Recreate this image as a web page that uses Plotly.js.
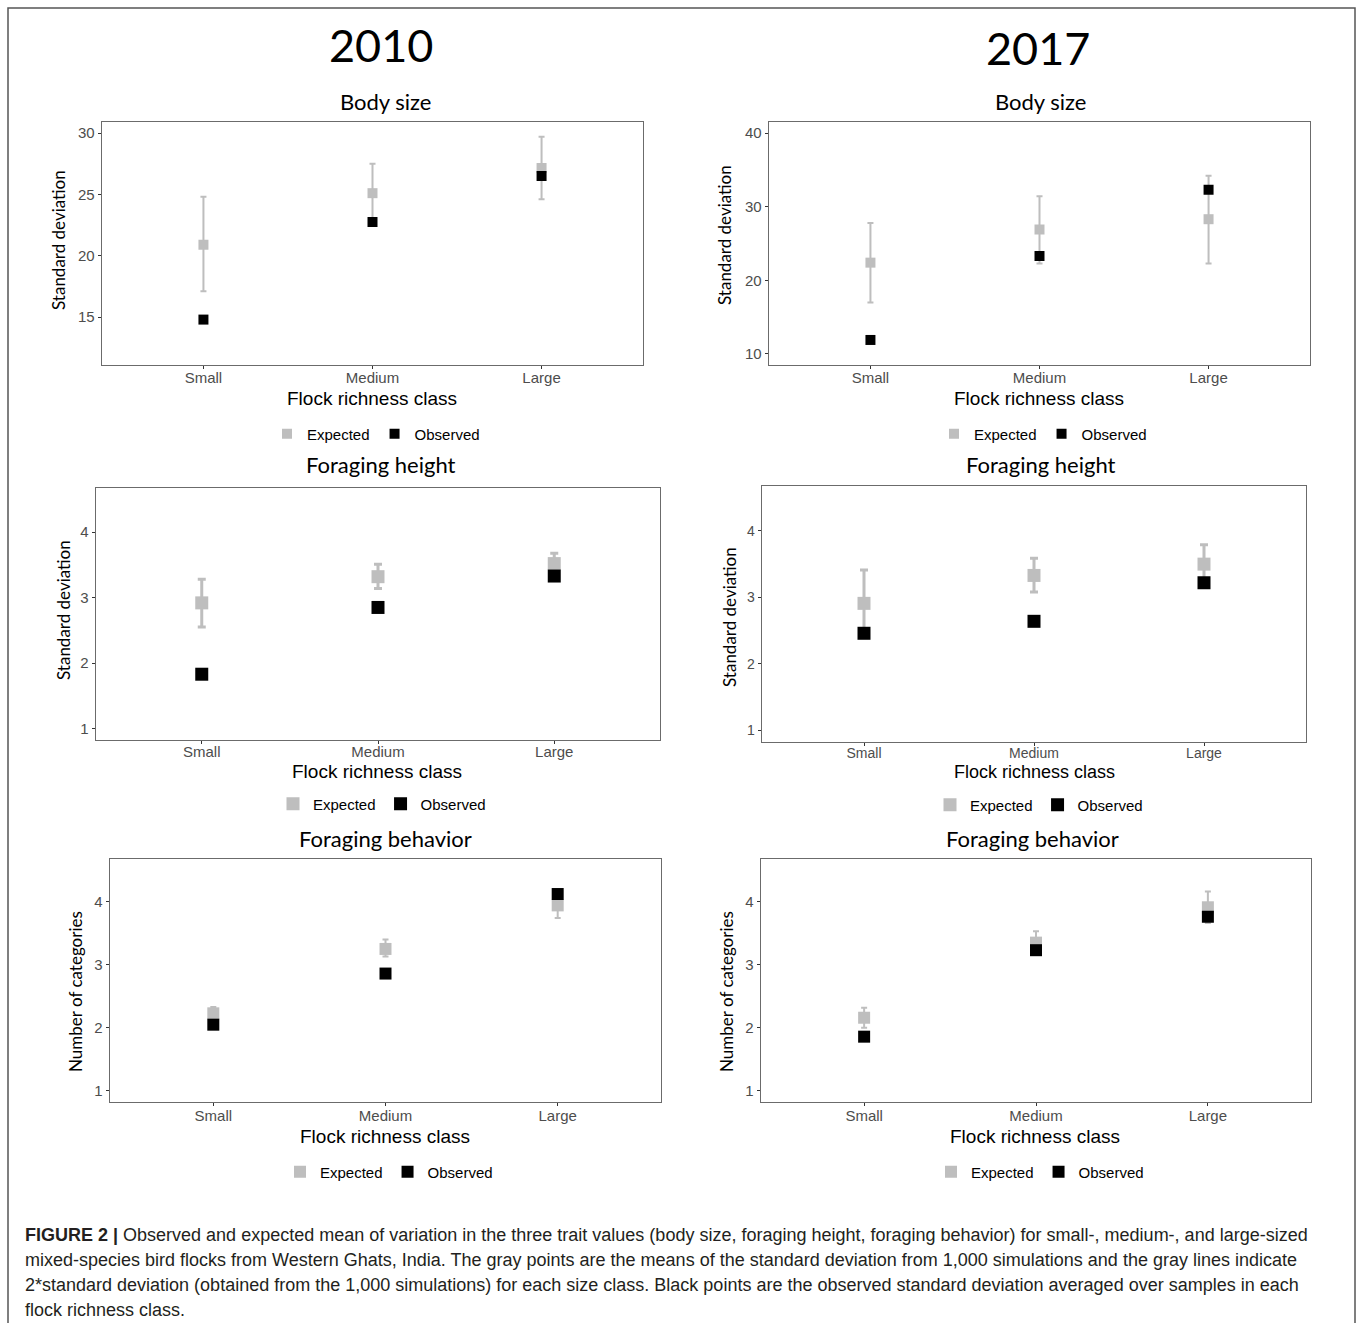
<!DOCTYPE html>
<html>
<head>
<meta charset="utf-8">
<script src="https://cdn.plot.ly/plotly-3.0.1.min.js"></script>
<style>
  html, body { margin: 0; padding: 0; background: #ffffff; }
  #chart { width: 1358px; height: 1323px; }
</style>
</head>
<body>
<div id="chart"></div>
<script>
// ---------------- DATA ----------------
const categories = ["Small", "Medium", "Large"];
const seriesNames = ["Expected", "Observed"];
const years = ["2010", "2017"];
const traitTitles = ["Body size", "Foraging height", "Foraging behavior"];
const yAxisTitles = ["Standard deviation", "Standard deviation", "Number of categories"];
const xAxisTitle = "Flock richness class";

// 2010 Body size
const body2010Expected = [20.9, 25.1, 27.15];
const body2010Lower    = [17.1, 22.7, 24.6];
const body2010Upper    = [24.8, 27.5, 29.7];
const body2010Observed = [14.8, 22.75, 26.5];
// 2017 Body size
const body2017Expected = [22.4, 26.9, 28.3];
const body2017Lower    = [17.0, 22.3, 22.3];
const body2017Upper    = [27.8, 31.4, 34.2];
const body2017Observed = [11.9, 23.3, 32.3];
// 2010 Foraging height
const height2010Expected = [2.92, 3.32, 3.52];
const height2010Lower    = [2.55, 3.14, 3.36];
const height2010Upper    = [3.28, 3.51, 3.68];
const height2010Observed = [1.83, 2.85, 3.33];
// 2017 Foraging height
const height2017Expected = [2.91, 3.33, 3.50];
const height2017Lower    = [2.41, 3.08, 3.21];
const height2017Upper    = [3.41, 3.59, 3.79];
const height2017Observed = [2.46, 2.64, 3.22];
// 2010 Foraging behavior
const behav2010Expected = [2.23, 3.25, 3.94];
const behav2010Lower    = [2.13, 3.13, 3.74];
const behav2010Upper    = [2.33, 3.40, 4.14];
const behav2010Observed = [2.05, 2.86, 4.12];
// 2017 Foraging behavior
const behav2017Expected = [2.16, 3.35, 3.91];
const behav2017Lower    = [2.00, 3.17, 3.66];
const behav2017Upper    = [2.32, 3.53, 4.16];
const behav2017Observed = [1.86, 3.23, 3.76];

const body2010Ticks = [15, 20, 25, 30];
const body2017Ticks = [10, 20, 30, 40];
const smallTicks = [1, 2, 3, 4];

const captionLines = [
  "<b>FIGURE 2 |</b> Observed and expected mean of variation in the three trait values (body size, foraging height, foraging behavior) for small-, medium-, and large-sized",
  "mixed-species bird flocks from Western Ghats, India. The gray points are the means of the standard deviation from 1,000 simulations and the gray lines indicate",
  "2*standard deviation (obtained from the 1,000 simulations) for each size class. Black points are the observed standard deviation averaged over samples in each",
  "flock richness class."
];

// ---------------- LAYOUT HELPERS ----------------
const W = 1358, H = 1323;
const fx = x => x / W;
const fy = y => 1 - y / H;

const panels = [
  { exp: body2010Expected, lo: body2010Lower, hi: body2010Upper, obs: body2010Observed, ticks: body2010Ticks, yr: [11.1, 30.9],
    box: [102, 643, 122, 365], title: traitTitles[0], tpos: [385, 101], ytitle: yAxisTitles[0], ypos: [58, 240], xpos: [372, 398],
    leg: [376, 434], ms: 10, ebw: 2, ecap: 3, tf: 15, xtf: 19, tso: -4 },
  { exp: body2017Expected, lo: body2017Lower, hi: body2017Upper, obs: body2017Observed, ticks: body2017Ticks, yr: [8.5, 41.5],
    box: [769, 1310, 122, 365], title: traitTitles[0], tpos: [1040, 101], ytitle: yAxisTitles[0], ypos: [725, 235], xpos: [1039, 398],
    leg: [1043, 434], ms: 10, ebw: 2, ecap: 3, tf: 15, xtf: 19, tso: -4 },
  { exp: height2010Expected, lo: height2010Lower, hi: height2010Upper, obs: height2010Observed, ticks: smallTicks, yr: [0.825, 4.675],
    box: [96, 660, 488, 740], title: traitTitles[1], tpos: [381, 464], ytitle: yAxisTitles[1], ypos: [63, 610], xpos: [377, 771],
    leg: [382, 804], ms: 13, ebw: 3, ecap: 4, tf: 15, xtf: 19, tso: -5 },
  { exp: height2017Expected, lo: height2017Lower, hi: height2017Upper, obs: height2017Observed, ticks: smallTicks, yr: [0.825, 4.675],
    box: [762, 1306, 486, 742], title: traitTitles[1], tpos: [1041, 464], ytitle: yAxisTitles[1], ypos: [730, 617], xpos: [1034, 772],
    leg: [1039, 805], ms: 13, ebw: 3, ecap: 4, tf: 14, xtf: 18, tso: -5 },
  { exp: behav2010Expected, lo: behav2010Lower, hi: behav2010Upper, obs: behav2010Observed, ticks: smallTicks, yr: [0.825, 4.675],
    box: [110, 661, 859, 1102], title: traitTitles[2], tpos: [385, 838], ytitle: yAxisTitles[2], ypos: [75, 992], xpos: [385, 1136],
    leg: [389, 1172], ms: 12, ebw: 2, ecap: 3, tf: 15, xtf: 19, tso: -3 },
  { exp: behav2017Expected, lo: behav2017Lower, hi: behav2017Upper, obs: behav2017Observed, ticks: smallTicks, yr: [0.825, 4.675],
    box: [761, 1311, 859, 1102], title: traitTitles[2], tpos: [1032, 838], ytitle: yAxisTitles[2], ypos: [726, 992], xpos: [1035, 1136],
    leg: [1040, 1172], ms: 12, ebw: 2, ecap: 3, tf: 15, xtf: 19, tso: -3 }
];

const traces = [];
const layout = {
  width: W, height: H,
  margin: { l: 0, r: 0, t: 0, b: 0 },
  paper_bgcolor: "#ffffff",
  plot_bgcolor: "#ffffff",
  showlegend: true,
  annotations: [],
  shapes: []
};

const tickFontFamily = "Liberation Sans, Arial, sans-serif";
const titleFontFamily = "Lato, Open Sans, sans-serif";

panels.forEach((p, i) => {
  const n = i === 0 ? "" : String(i + 1);
  const xa = "x" + n, ya = "y" + n;
  const legName = "legend" + n;
  const errPlus = p.hi.map((v, k) => v - p.exp[k]);
  const errMinus = p.exp.map((v, k) => v - p.lo[k]);

  traces.push({
    type: "scatter", mode: "markers", name: seriesNames[0],
    x: categories, y: p.exp, xaxis: xa, yaxis: ya, legend: legName,
    marker: { symbol: "square", color: "#BEBEBE", size: p.ms },
    error_y: { type: "data", symmetric: false, array: errPlus, arrayminus: errMinus,
               color: "#BEBEBE", thickness: p.ebw, width: p.ecap },
    hoverinfo: "skip"
  });
  traces.push({
    type: "scatter", mode: "markers", name: seriesNames[1],
    x: categories, y: p.obs, xaxis: xa, yaxis: ya, legend: legName,
    marker: { symbol: "square", color: "#000000", size: p.ms },
    hoverinfo: "skip"
  });

  const [bx0, bx1, by0, by1] = p.box;
  layout["xaxis" + n] = {
    domain: [fx(bx0), fx(bx1)], anchor: ya,
    type: "category", range: [-0.6, 2.6], fixedrange: true,
    showline: true, mirror: true, linecolor: "#6b6b6b", linewidth: 1.3,
    showgrid: false, zeroline: false,
    ticks: "outside", ticklen: 3, tickcolor: "#333333", tickwidth: 1,
    ticklabelstandoff: p.tso,
    tickfont: { family: tickFontFamily, size: p.tf, color: "#4D4D4D" }
  };
  layout["yaxis" + n] = {
    domain: [fy(by1), fy(by0)], anchor: xa,
    range: p.yr, fixedrange: true,
    tickmode: "array", tickvals: p.ticks, ticktext: p.ticks.map(String),
    showline: true, mirror: true, linecolor: "#6b6b6b", linewidth: 1.3,
    showgrid: false, zeroline: false,
    ticks: "outside", ticklen: 3, tickcolor: "#333333", tickwidth: 1,
    tickfont: { family: tickFontFamily, size: p.tf, color: "#4D4D4D" }
  };
  layout[legName] = {
    orientation: "h", x: fx(p.leg[0]), y: fy(p.leg[1]), xref: "paper", yref: "paper",
    xanchor: "center", yanchor: "middle",
    bgcolor: "rgba(0,0,0,0)", borderwidth: 0,
    font: { family: tickFontFamily, size: 15, color: "#000000" },
    itemwidth: 30, tracegroupgap: 0, itemclick: false, itemdoubleclick: false
  };

  layout.annotations.push({
    text: p.title, xref: "paper", yref: "paper", x: fx(p.tpos[0]), y: fy(p.tpos[1]),
    xanchor: "center", yanchor: "middle", showarrow: false,
    font: { family: titleFontFamily, size: 22, color: "#000000" }
  });
  layout.annotations.push({
    text: p.ytitle, xref: "paper", yref: "paper", x: fx(p.ypos[0]), y: fy(p.ypos[1]),
    xanchor: "center", yanchor: "middle", showarrow: false, textangle: -90,
    font: { family: titleFontFamily, size: 17, color: "#000000" }
  });
  layout.annotations.push({
    text: xAxisTitle, xref: "paper", yref: "paper", x: fx(p.xpos[0]), y: fy(p.xpos[1]),
    xanchor: "center", yanchor: "middle", showarrow: false,
    font: { family: tickFontFamily, size: p.xtf, color: "#000000" }
  });
});

// Year headings
[[years[0], 381, 45], [years[1], 1038, 48]].forEach(([t, x, y]) => {
  layout.annotations.push({
    text: t, xref: "paper", yref: "paper", x: fx(x), y: fy(y),
    xanchor: "center", yanchor: "middle", showarrow: false,
    font: { family: titleFontFamily, size: 45, color: "#000000" }
  });
});

// Caption
captionLines.forEach((line, k) => {
  layout.annotations.push({
    text: line, xref: "paper", yref: "paper", x: fx(23), y: fy(1235 + 25 * k),
    xanchor: "left", yanchor: "middle", showarrow: false, align: "left",
    font: { family: tickFontFamily, size: 18, color: "#231F20" }
  });
});

// Outer frame
layout.shapes.push({
  type: "rect", xref: "paper", yref: "paper",
  x0: fx(8), x1: fx(1355), y0: fy(1340), y1: fy(8),
  line: { color: "#555555", width: 1.5 }, fillcolor: "rgba(0,0,0,0)"
});

Plotly.newPlot("chart", traces, layout, { displayModeBar: false, staticPlot: true });
</script>
</body>
</html>
